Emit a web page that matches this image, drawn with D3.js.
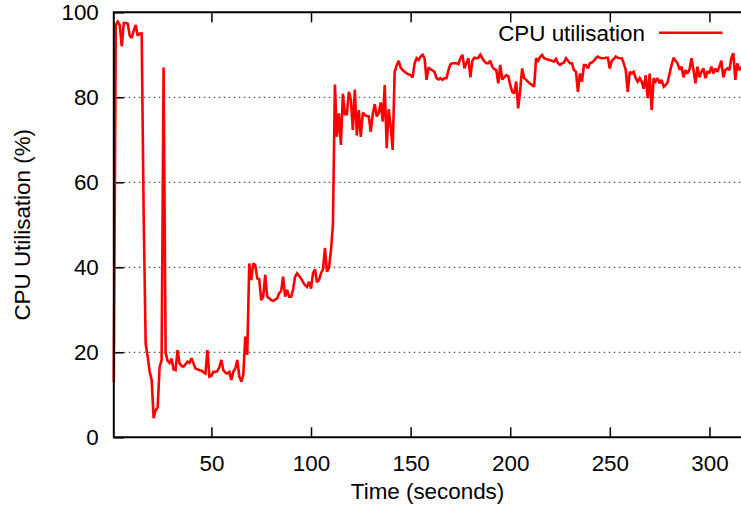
<!DOCTYPE html>
<html><head><meta charset="utf-8">
<script src="https://cdn.jsdelivr.net/npm/d3@7/dist/d3.min.js"></script>
<style>
body{margin:0;background:#fff}
svg{display:block}
text{font-family:"Liberation Sans",Arial,Helvetica,sans-serif;fill:#000}
</style>
</head><body>
<svg id="chart" width="741" height="512"></svg>
<script>
// Sampled once per second, starting at t = 1 s
const timeStart = 1;
const cpuValues = [
13,97,97.8,97,92,97.5,97.5,97.3,94.5,94,95.7,97,94.5,95,95,52,22,19,15.5,13.5,
4.5,6.4,7,16.5,18.2,87,20,18,17.5,18.5,16,15.8,20.5,17.4,16.8,16.6,17.2,17.8,17.5,18.6,
17.4,16.2,16,15.8,15.7,15.3,15,20.5,14.3,14.5,15.4,15.4,15.6,16.5,18.2,15.8,15.2,15,15.4,13.5,
15.4,16.2,18.2,14.3,13.1,14.7,23.7,19.4,40.9,37,40.9,40.5,37.4,37.2,32.3,33.1,38.2,33.1,32.7,32.3,
32.1,32.4,32.7,33.9,34.4,37.8,33.1,34.7,33.1,33.1,34.7,37.8,38.6,38,37.4,36.5,35.8,35.4,36.6,35,
38.6,39.5,36.5,37,38.6,39.5,44.5,39,39.8,44,50,83,70.7,76.2,68.8,80.8,76,76,81.3,79.5,
72.3,81.8,71,77,70.7,76.4,75.8,75.6,75.5,71.9,76,78.4,75.5,76.3,78.8,74.3,82.9,68,77.2,73.1,
67.6,86,87.5,88.6,87,86.4,86,85.6,85.4,85.2,84.7,88,89.2,88.8,89.6,90,89.2,84.1,87,86.6,
86.3,86,84.5,84.2,84.5,84.1,84.5,84.5,86.4,87.8,88,88,88,87.8,89.2,90,86.8,88,89.2,84.7,
88.6,89.3,89.2,89.3,90,89.2,88.5,88,88,88.6,87.2,86.6,86.4,83.3,87.6,84.2,84.7,85.2,85,82.9,
81.3,80.9,83.7,77.4,81.7,86.8,84.5,84.1,83.6,83.2,82.9,82.5,89.2,88.6,89.5,90,89.2,89,88.9,88.7,
88.6,88.4,89,88,87.6,88,88.2,89.2,88.6,88,88,86.4,86,81.3,85.6,83.7,87.6,87.6,86.8,88,
88.2,88.6,89.2,89.6,89.3,89.2,89.2,89.3,89.3,86.8,88.6,89,89.6,89.3,89.2,89.2,88,86.4,81.3,86,
85.6,86,84.5,83.7,84.5,83.7,82,85.2,79.8,85.6,77,84.5,83.7,84.5,83.3,84.1,82.5,82.9,83.5,85.6,
87.6,89.3,88.6,88,86.5,87.2,84.7,86.4,85.6,86.5,89.2,86.4,83.3,87.2,84.7,86,86.8,84.5,86,85.8,
87.2,85.6,86.8,86,87.2,88.6,84.7,86.4,86.8,86.4,89.2,90.4,84.1,88,86.4,87.2
];
const xTicks = [50,100,150,200,250,300];
const yTicks = [0,20,40,60,80,100];
const gridValues = [20,40,60,80];
const seriesName = "CPU utilisation";
const xLabel = "Time (seconds)";
const yLabel = "CPU Utilisation (%)";

const data = cpuValues.map((v,i)=>({t:timeStart+i, v}));

const plotL = 113.8, plotR = 741.3, plotT = 12.3, plotB = 437.3;
const fs = 22.4;

const svg = d3.select("#chart");
const x = d3.scaleLinear().domain([timeStart, timeStart + cpuValues.length - 1]).range([plotL, plotR]);
const y = d3.scaleLinear().domain([0,100]).range([plotB, plotT]);

// grid
svg.append("g").selectAll("line").data(gridValues).join("line")
  .attr("x1", plotL).attr("x2", plotR)
  .attr("y1", d=>y(d)).attr("y2", d=>y(d))
  .attr("stroke", "#555").attr("stroke-width", 1.2)
  .attr("stroke-dasharray", "1.5,3.5");

// axes
const gx = svg.append("g").attr("transform", `translate(0,${plotB})`)
  .call(d3.axisBottom(x).tickValues(xTicks).tickSize(-10).tickPadding(18).tickFormat(d3.format("d")));
const gxt = svg.append("g").attr("transform", `translate(0,${plotT})`)
  .call(d3.axisTop(x).tickValues(xTicks).tickSize(-10).tickFormat(""));
const gy = svg.append("g").attr("transform", `translate(${plotL},0)`)
  .call(d3.axisLeft(y).tickValues(yTicks).tickSize(-10).tickPadding(15).tickFormat(d3.format("d")));
[gx,gxt,gy].forEach(g=>{
  g.select(".domain").remove();
  g.selectAll(".tick line").attr("stroke","#000").attr("stroke-width",1.5);
  g.selectAll("text").attr("font-size", fs).attr("font-family",'"Liberation Sans",Arial,sans-serif').attr("fill","#000");
});

// series line
svg.append("path").datum(data)
  .attr("fill","none").attr("stroke","#ff0000").attr("stroke-width",2.6)
  .attr("stroke-linejoin","miter").attr("stroke-miterlimit",2)
  .attr("d", d3.line().x(d=>x(d.t)).y(d=>y(d.v)));

// border
svg.append("path")
  .attr("d", `M${plotR},${plotT}H${plotL}V${plotB}H${plotR}`)
  .attr("fill","none").attr("stroke","#000").attr("stroke-width",2);

// legend
svg.append("text").attr("x", 645).attr("y", 41).attr("text-anchor","end")
  .attr("font-size", fs).text(seriesName);
svg.append("line").attr("x1",659).attr("x2",722.5).attr("y1",32.7).attr("y2",32.7)
  .attr("stroke","#ff0000").attr("stroke-width",2.6);

// axis labels
svg.append("text").attr("x", (plotL+plotR)/2).attr("y", 499).attr("text-anchor","middle")
  .attr("font-size", fs).text(xLabel);
svg.append("text").attr("transform", `translate(30,${(plotT+plotB)/2}) rotate(-90)`)
  .attr("text-anchor","middle").attr("font-size", fs).text(yLabel);
</script>
</body></html>
